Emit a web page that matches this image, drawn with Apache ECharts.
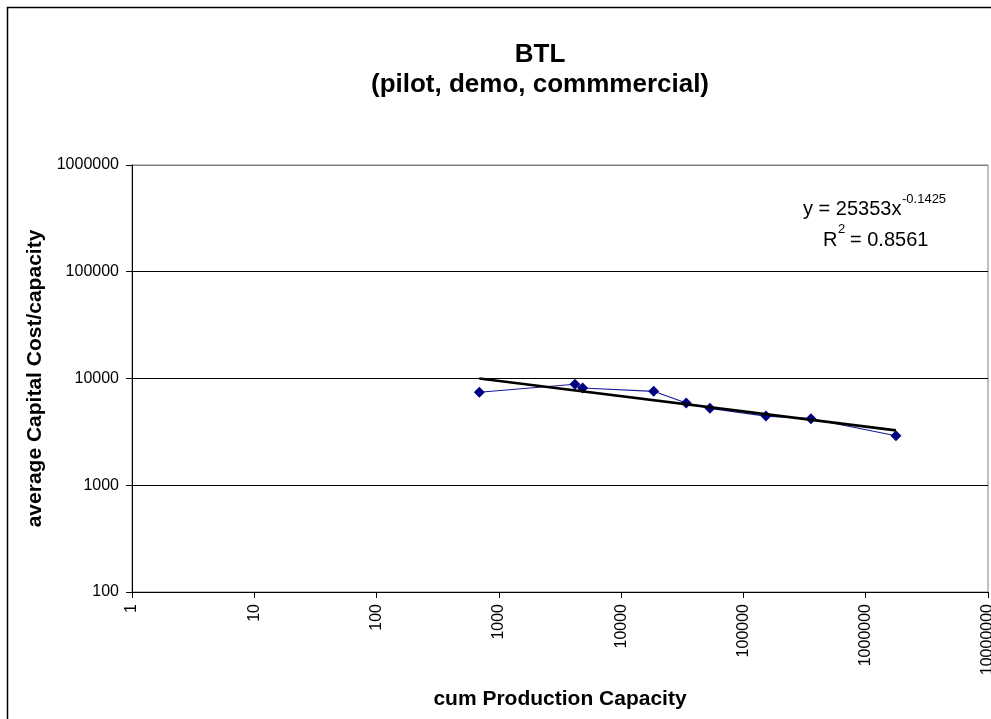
<!DOCTYPE html>
<html>
<head>
<meta charset="utf-8">
<script src="https://cdn.jsdelivr.net/npm/echarts@6/dist/echarts.min.js"></script>
<style>
  html, body { margin: 0; padding: 0; background: #fff; }
  #chart { width: 991px; height: 719px; }
</style>
</head>
<body>
<div id="chart"></div>
<script>
// Cumulative production capacity (x) and average capital cost per unit capacity (y)
const capacity = [692, 4190, 4840, 18450, 34050, 53200, 152800, 356600, 1766000];
const avgCost  = [7430, 8830, 8150, 7590, 5890, 5260, 4450, 4200, 2910];

// Power-law trend reported on the chart: y = a * x^b
const trendA = 25353;
const trendB = -0.1425;
const trendR2 = 0.8561;

const xTickLabels = ['1', '10', '100', '1000', '10000', '100000', '1000000', '10000000'];
const yTickLabels = ['100', '1000', '10000', '100000', '1000000'];

const FONT = 'Liberation Sans, Arial, sans-serif';

const points = capacity.map((x, i) => [x, avgCost[i]]);
const xMin = Math.min.apply(null, capacity);
const xMax = Math.max.apply(null, capacity);
const trendLine = [xMin, xMax].map(x => [x, trendA * Math.pow(x, trendB)]);

function tickLabel(labels, base) {
  return function (v) {
    const k = Math.round(Math.log10(v)) - base;
    return labels[k] !== undefined ? labels[k] : '';
  };
}

// gridlines are black; the topmost one doubles as the grey plot-area border
const gridColors = yTickLabels.map((_, i) => i === yTickLabels.length - 1 ? '#808080' : '#000');

function label(text, x, y, size) {
  return {
    type: 'text', x: x, y: y,
    style: { text: text, fontFamily: FONT, fontSize: size, fill: '#000',
             align: 'left', verticalAlign: 'middle' }
  };
}

const chart = echarts.init(document.getElementById('chart'), null, { renderer: 'canvas' });
chart.setOption({
  animation: false,
  backgroundColor: '#ffffff',
  grid: {
    left: 132, top: 165, right: 3, bottom: 127,
    containLabel: false, outerBoundsMode: 'none',
    show: true, borderColor: '#808080', borderWidth: 1, backgroundColor: 'transparent'
  },
  xAxis: {
    type: 'log', logBase: 10, min: 1, max: 10000000,
    name: 'cum Production Capacity',
    nameLocation: 'middle', nameGap: 97,
    nameTextStyle: { fontFamily: FONT, fontSize: 21, fontWeight: 'bold', color: '#000' },
    axisLine: { show: true, onZero: false, lineStyle: { color: '#000', width: 1 } },
    axisTick: { show: true, inside: false, length: 6, lineStyle: { color: '#000' } },
    minorTick: { show: false },
    splitLine: { show: false },
    axisLabel: {
      rotate: 90, margin: 12, fontFamily: FONT, fontSize: 16, color: '#000',
      formatter: tickLabel(xTickLabels, 0), showMinLabel: true, showMaxLabel: true
    }
  },
  yAxis: {
    type: 'log', logBase: 10, min: 100, max: 1000000,
    name: 'average Capital Cost/capacity',
    nameLocation: 'middle', nameGap: 82,
    nameTextStyle: { fontFamily: FONT, fontSize: 21, fontWeight: 'bold', color: '#000' },
    axisLine: { show: true, onZero: false, lineStyle: { color: '#000', width: 1 } },
    axisTick: { show: true, inside: false, length: 6, lineStyle: { color: '#000' } },
    minorTick: { show: false },
    splitLine: { show: true, lineStyle: { color: gridColors, width: 1 } },
    axisLabel: {
      margin: 13, fontFamily: FONT, fontSize: 16, color: '#000',
      formatter: tickLabel(yTickLabels, 2), showMinLabel: true, showMaxLabel: true
    }
  },
  series: [
    {
      name: 'BTL',
      type: 'line',
      data: points,
      symbol: 'diamond',
      symbolSize: 11,
      itemStyle: { color: '#000080' },
      lineStyle: { color: '#1a1a99', width: 1.2 },
      z: 3
    },
    {
      name: 'Power trend',
      type: 'line',
      data: trendLine,
      symbol: 'none',
      lineStyle: { color: '#000', width: 2.6 },
      z: 4
    }
  ],
  graphic: [
    {
      type: 'rect', silent: true, z: -1,
      shape: { x: 7.5, y: 7.5, width: 1100, height: 900 },
      style: { fill: 'transparent', stroke: '#000', lineWidth: 1.5 }
    },
    {
      type: 'text', x: 540, y: 40,
      style: {
        text: 'BTL\n(pilot, demo, commmercial)',
        fontFamily: FONT, fontSize: 26, fontWeight: 'bold', fill: '#000',
        align: 'center', verticalAlign: 'top', lineHeight: 30
      }
    },
    // trend equation with superscripts
    label('y = ' + trendA + 'x', 803, 209, 20),
    label(String(trendB), 902, 199, 13),
    label('R', 823, 240, 20),
    label('2', 838, 229, 13),
    label('= ' + trendR2, 850, 240, 20)
  ]
});
</script>
</body>
</html>
